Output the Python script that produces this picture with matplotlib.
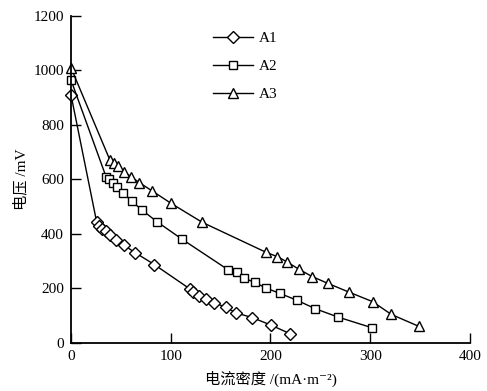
"""
Polarization curves for A1, A2 and A3
"""

import matplotlib.pyplot as plt

plt.rcParams['font.family'] = ['Liberation Serif', 'Noto Sans CJK SC', 'DejaVu Serif']

a1_x = [0, 25.8, 28.4, 30.8, 35.1, 39.1, 44.8, 53.2, 64.2, 83.6, 119.4, 122, 128.7,
        135.4, 143.7, 155.2, 165.2, 181.9, 200.3, 219.7]
a1_y = [910, 442, 430, 418, 410, 396, 377, 358, 331, 287, 197, 187, 173,
        162, 147, 130, 110, 92, 65, 33]

a2_x = [0, 35.1, 37.8, 42.5, 46.5, 52.5, 60.9, 70.9, 86, 111.4, 157.9, 166.3, 173.6,
        184, 195.4, 209.5, 226.5, 244.8, 267.9, 301.7]
a2_y = [965, 610, 601, 586, 571, 550, 520, 488, 445, 380, 267, 259, 237,
        222, 201, 181, 156, 125, 94, 55]

a3_x = [0, 39, 43, 46.8, 53.1, 60.1, 68.5, 81.6, 100.3, 131.7, 195.6, 207, 217,
        228.4, 241.8, 257.5, 278.6, 302.3, 321.1, 348.8]
a3_y = [1010, 671, 659, 650, 628, 610, 588, 557, 512, 442, 332, 316, 296,
        270, 243, 218, 186, 151, 104, 60]

series = [('A1', a1_x, a1_y, 'D', 6.2),
          ('A2', a2_x, a2_y, 's', 6.2),
          ('A3', a3_x, a3_y, '^', 7.5)]

fig = plt.figure(figsize=(4.87, 3.91), dpi=100)
ax = fig.add_axes([0.1458, 0.1235, 0.8192, 0.8355])

for name, xs, ys, marker, size in series:
    ax.plot(xs, ys, color='black', linewidth=1.0, marker=marker, markersize=size,
            markerfacecolor='white', markeredgecolor='black', markeredgewidth=1.0,
            label=name, clip_on=False)

ax.set_xlim(0, 400)
ax.set_ylim(0, 1200)
ax.set_xticks([0, 100, 200, 300, 400])
ax.set_yticks([0, 200, 400, 600, 800, 1000, 1200])

for side in ('top', 'right'):
    ax.spines[side].set_visible(False)
for side in ('left', 'bottom'):
    ax.spines[side].set_linewidth(1.3)

ax.tick_params(direction='in', length=7, width=1.0, labelsize=11, pad=5)

ax.set_xlabel('电流密度 /(mA·m⁻²)', fontsize=11, labelpad=6)
ax.set_ylabel('电压 /mV', fontsize=11, labelpad=4)

ax.legend(loc='upper left', bbox_to_anchor=(0.41, 0.955), bbox_transform=fig.transFigure,
          frameon=False, fontsize=11, handlelength=2.6, labelspacing=0.95,
          handletextpad=0.4)

fig.savefig('out.png', dpi=100)
